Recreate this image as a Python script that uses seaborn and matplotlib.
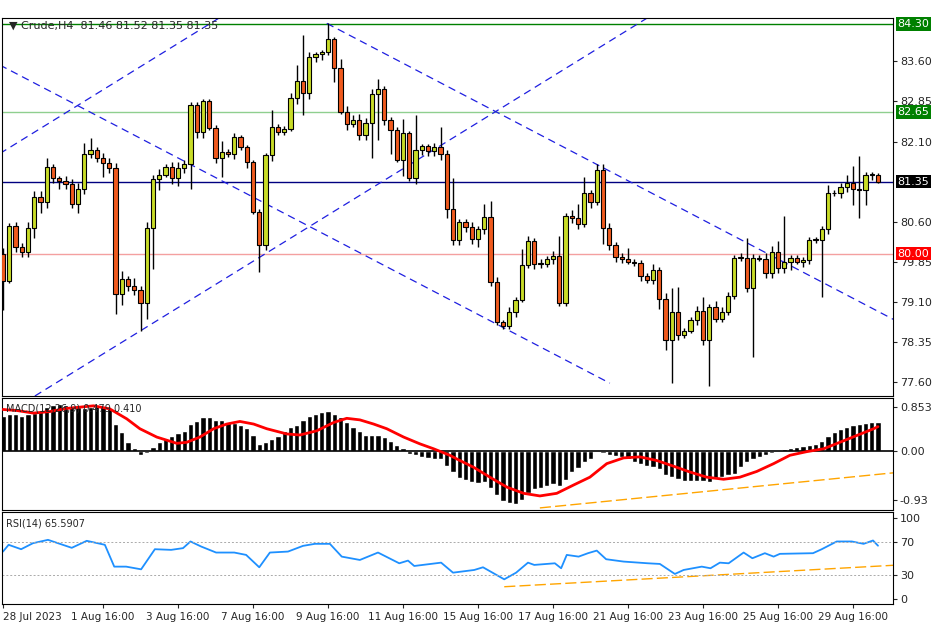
import matplotlib
matplotlib.use("Agg")
import matplotlib.pyplot as plt
import seaborn as sns
import numpy as np
import pandas as pd

# ---- price data (H4 candles) ----
first_open = 80.00
closes = [79.50, 80.52, 80.13, 80.04, 80.49, 81.07, 80.96, 81.63, 81.41, 81.37,
          81.31, 80.94, 81.22, 81.87, 81.95, 81.80, 81.69, 81.61, 79.25, 79.53,
          79.40, 79.32, 79.08, 80.49, 81.39, 81.48, 81.63, 81.41, 81.61, 81.67,
          82.79, 82.27, 82.85, 82.36, 81.80, 81.91, 81.86, 82.18, 81.99, 81.71,
          80.79, 80.17, 81.84, 82.38, 82.27, 82.34, 82.91, 83.24, 83.00, 83.68,
          83.73, 83.77, 84.01, 83.47, 82.66, 82.42, 82.51, 82.23, 82.44, 82.98,
          83.09, 82.51, 82.32, 81.76, 82.25, 81.41, 81.95, 82.01, 81.93, 81.99,
          81.86, 80.84, 80.26, 80.60, 80.51, 80.28, 80.47, 80.69, 79.47, 78.72,
          78.65, 78.91, 79.14, 79.79, 80.24, 79.81, 79.81, 79.90, 79.96, 79.08,
          80.71, 80.67, 80.56, 81.14, 80.96, 81.57, 80.49, 80.17,
          79.94, 79.91, 79.85, 79.83, 79.59, 79.51, 79.70, 79.16, 78.39, 78.91,
          78.48, 78.56, 78.76, 78.93, 78.39, 79.01, 78.78, 78.91, 79.21, 79.92,
          79.92, 79.36, 79.92, 79.91, 79.64, 80.04, 79.74, 79.85, 79.92, 79.85,
          79.89, 80.26, 80.26, 80.47, 81.13, 81.14, 81.24, 81.33, 81.22, 81.20,
          81.48, 81.48, 81.35]
upper_wick = [0.1, 0.05, 0.08, 0.08, 0.1, 0.1, 0.1, 0.17, 0.05, 0.05,
              0.08, 0.08, 0.1, 0.2, 0.22, 0.05, 0.08, 0.1, 0.08, 0.15,
              0.05, 0.15, 0.08, 0.1, 0.08, 0.1, 0.05, 0.08, 0.1, 0.08,
              0.05, 0.05, 0.05, 0.05, 0.05, 0.2, 0.05, 0.08, 0.05, 0.05,
              0.05, 0.05, 0.05, 0.3, 0.05, 0.05, 0.1, 0.29, 0.85, 0.1,
              0.05, 0.05, 0.3, 0.05, 0.17, 0.1, 0.08, 0.1, 0.1, 0.1,
              0.17, 0.05, 0.05, 0.05, 0.28, 0.05, 0.64, 0.05, 0.05, 0.08,
              0.39, 0.08, 0.57, 0.05, 0.05, 0.08, 0.05, 0.25, 0.3, 0.1,
              0.05, 0.1, 0.05, 0.3, 0.1, 0.05, 0.1, 0.05, 0.1, 0.38,
              0.05, 0.1, 0.27, 0.3, 0.05, 0.1, 0.1, 0.08, 0.05, 0.08,
              0.2, 0.05, 0.05, 0.05, 0.1, 0.05, 0.1, 0.45, 0.47, 0.05,
              0.05, 0.1, 0.26, 0.05, 0.1, 0.1, 0.08, 0.05, 0.1, 0.38,
              0.08, 0.05, 0.1, 0.1, 0.2, 0.86, 0.05, 0.05, 0.05, 0.05,
              0.05, 0.05, 0.15, 0.05, 0.08, 0.15, 0.32, 0.6, 0.05, 0.05, 0.04]
lower_wick = [0.55, 0.05, 0.1, 0.1, 0.1, 0.2, 0.2, 0.1, 0.08, 0.15,
              0.1, 0.08, 0.17, 0.1, 0.08, 0.08, 0.25, 0.1, 0.37, 0.2,
              0.1, 0.1, 0.52, 0.3, 0.77, 0.2, 0.05, 0.1, 0.15, 0.1,
              0.45, 0.1, 0.1, 0.05, 0.1, 0.36, 0.05, 0.08, 0.05, 0.1,
              0.05, 0.51, 0.1, 0.1, 0.05, 0.05, 0.05, 0.1, 0.41, 0.1,
              0.1, 0.1, 0.05, 0.25, 0.05, 0.1, 0.05, 0.1, 0.1, 0.64,
              0.86, 0.1, 0.45, 0.05, 0.3, 0.05, 0.1, 0.1, 0.1, 0.1,
              0.1, 0.18, 0.1, 0.1, 0.1, 0.1, 0.15, 0.1, 0.07, 0.05,
              0.05, 0.05, 0.1, 0.05, 0.05, 0.1, 0.08, 0.05, 0.1, 0.05,
              0.05, 0.1, 0.1, 0.05, 0.1, 0.05, 0.3, 0.1, 0.1, 0.08,
              0.05, 0.05, 0.1, 0.05, 0.08, 0.19, 0.19, 0.81, 0.1, 0.05,
              0.05, 0.1, 0.1, 0.86, 0.05, 0.05, 0.05, 0.05, 0.05, 0.08,
              1.29, 0.05, 0.1, 0.1, 0.1, 0.1, 0.15, 0.05, 0.1, 0.08,
              0.05, 1.07, 0.1, 0.05, 0.1, 0.08, 0.3, 0.53, 0.28, 0.1, 0.03]

# ---- MACD main (histogram) and signal ----
macd = [0.67, 0.71, 0.71, 0.68, 0.71, 0.74, 0.78, 0.84, 0.88, 0.90,
        0.88, 0.87, 0.84, 0.82, 0.84, 0.87, 0.87, 0.82, 0.53, 0.36,
        0.18, 0.06, -0.07, -0.03, 0.08, 0.17, 0.25, 0.30, 0.35, 0.39,
        0.52, 0.57, 0.65, 0.66, 0.60, 0.59, 0.55, 0.54, 0.50, 0.45,
        0.31, 0.14, 0.17, 0.24, 0.30, 0.38, 0.46, 0.50, 0.59, 0.67,
        0.71, 0.76, 0.78, 0.71, 0.65, 0.55, 0.46, 0.38, 0.31, 0.31,
        0.31, 0.27, 0.20, 0.11, 0.06, -0.05, -0.08, -0.11, -0.13, -0.15,
        -0.16, -0.28, -0.40, -0.52, -0.56, -0.60, -0.62, -0.60, -0.71, -0.85,
        -0.96, -0.99, -1.01, -0.94, -0.81, -0.73, -0.71, -0.67, -0.64, -0.66,
        -0.56, -0.40, -0.32, -0.21, -0.15, -0.02, -0.03, -0.07, -0.10, -0.11,
        -0.15, -0.20, -0.24, -0.29, -0.31, -0.35, -0.46, -0.50, -0.53, -0.58,
        -0.58, -0.58, -0.58, -0.59, -0.53, -0.50, -0.46, -0.43, -0.31, -0.21,
        -0.16, -0.11, -0.07, -0.03, 0.01, 0.04, 0.06, 0.08, 0.10, 0.11,
        0.14, 0.20, 0.30, 0.36, 0.43, 0.47, 0.50, 0.52, 0.54, 0.55, 0.55]
signal_bar = [0, 2.2, 4.9, 7.5, 10.2, 14.5, 17.1, 19.8, 21.9, 24.6, 27.8, 29.4, 31.5,
              33.7, 35.8, 37.9, 40.1, 42.2, 45.4, 47.5, 50.2, 52.9, 55.0, 57.1, 59.3,
              61.4, 64.1, 66.7, 68.9, 71.5, 72.6, 75.3, 77.9, 80.6, 83.3, 85.9, 88.6,
              91.3, 93.9, 96.6, 99.3, 101.9, 104.6, 107.3, 109.9, 112.6, 115.3, 117.9,
              120.6, 123.3, 125.9, 128.6, 131.3, 133.9, 136.6, 139.3, 140.0]
signal_val = [0.80, 0.78, 0.73, 0.76, 0.82, 0.87, 0.81, 0.62, 0.43, 0.27, 0.15, 0.17, 0.27,
              0.43, 0.52, 0.57, 0.52, 0.43, 0.33, 0.31, 0.39, 0.55, 0.63, 0.60, 0.52,
              0.43, 0.27, 0.14, 0.045, -0.08, -0.15, -0.31, -0.50, -0.69, -0.81, -0.86, -0.81,
              -0.65, -0.50, -0.24, -0.13, -0.11, -0.18, -0.29, -0.40, -0.50, -0.54, -0.50,
              -0.39, -0.24, -0.08, -0.01, 0.045, 0.17, 0.30, 0.43, 0.47]

# ---- RSI(14) ----
rsi_bar = [0, 0.9, 2.9, 4.8, 7.2, 11, 13.4, 16.3, 17.8, 19.7, 22.1, 24.3, 26.9, 28.8, 30.0,
           31.7, 34.1, 37, 38.9, 41, 42.7, 45.6, 48, 49.9, 52.3, 54.2, 57.1, 60, 63.4, 64.8,
           65.8, 70.1, 72, 75.4, 76.8, 80.2, 82.1, 84, 85, 88.3, 89.3, 90.2, 92.1, 93.6, 95,
           96.5, 99.3, 103.2, 105.1, 107.5, 108.9, 111.8, 113.2, 114.7, 116.1, 118.5, 119.9,
           121.9, 123.3, 124.3, 129.6, 131, 133.4, 135.8, 137.7, 139.2, 140]
rsi_val = [58.4, 66.7, 61.3, 68.7, 72.8, 63.0, 71.6, 66.7, 39.9, 39.9, 36.6, 61.3, 60.5, 62.6, 70.8,
           64.6, 57.2, 57.2, 54.3, 39.1, 57.2, 58.4, 65.4, 67.9, 67.9, 52.2, 48.1, 57.2, 44.0, 47.3,
           40.7, 44.8, 32.5, 35.8, 39.1, 24.3, 32.5, 44.8, 42.0, 44.0, 37.9, 54.3, 52.2, 56.4, 59.6,
           49.0, 46.1, 44.0, 43.2, 30.9, 35.8, 39.9, 37.9, 44.8, 44.0, 57.2, 50.2,
           56.4, 52.2, 55.6, 56.4, 61.3, 70.8, 70.8, 67.9, 72.0, 65.6]

tick_bars = [0, 16, 28, 40, 52, 64, 76, 88, 100, 112, 124, 136]
tick_labels = ["28 Jul 2023", "1 Aug 16:00", "3 Aug 16:00", "7 Aug 16:00", "9 Aug 16:00",
               "11 Aug 16:00", "15 Aug 16:00", "17 Aug 16:00", "21 Aug 16:00",
               "23 Aug 16:00", "25 Aug 16:00", "29 Aug 16:00"]

# channel lines: (bar, price) endpoints
channel = [((-0.5, 81.875), (37.9, 84.65)),
           ((5.1, 77.34), (106.4, 84.65)),
           ((-0.5, 83.53), (97.1, 77.58)),
           ((51.8, 84.31), (143, 78.74))]
levels = [(84.30, "#008000", "#008000"), (82.65, "#8fcf8f", "#008000"),
          (81.35, "#000080", "#000000"), (80.00, "#f4a0a0", "#ff0000")]

sns.set_style("white")
plt.rcParams['font.family'] = ['DejaVu Sans']

df = pd.DataFrame({"close": closes, "uw": upper_wick, "lw": lower_wick})
df["bar"] = np.arange(len(df))
df["open"] = [first_open] + closes[:-1]
df["top"] = df[["open", "close"]].max(axis=1)
df["bot"] = df[["open", "close"]].min(axis=1)
df["high"] = df["top"] + df["uw"]
df["low"] = df["bot"] - df["lw"]
up = df["close"] >= df["open"]

W, H = 936, 624
fig = plt.figure(figsize=(W / 100, H / 100), dpi=100)
L, R = 2 / W, 893 / W
def pax(top, bot):
    return fig.add_axes([L, 1 - bot / H, R - L, (bot - top) / H])
ax = pax(18, 396)
axm = pax(398, 510)
axr = pax(512, 604)
xlim = (-0.16, 142.4)

# candles
ax.vlines(df["bar"], df["low"], df["high"], color="black", lw=1, zorder=3)
ax.bar(df["bar"], (df["top"] - df["bot"]).clip(lower=0.015), bottom=df["bot"], width=0.68,
       color=np.where(up, "#c8dc28", "#f05a1e"), edgecolor="black", lw=0.8, zorder=4)
for (x0, y0), (x1, y1) in channel:
    ax.plot([x0, x1], [y0, y1], color="#1f1fe0", lw=0.9, ls=(0, (6, 4)), zorder=2)
for val, lc, bc in levels:
    ax.axhline(val, color=lc, lw=1, zorder=1)
    ax.text(1.005, val, f"{val:.2f}", transform=ax.get_yaxis_transform(), fontsize=8,
            color="white", va="center", ha="left",
            bbox=dict(boxstyle="square,pad=0.15", fc=bc, ec="none"), zorder=6)
ax.set_ylim(77.34, 84.41)
ax.set_yticks([83.60, 82.85, 82.10, 80.60, 79.85, 79.10, 78.35, 77.60])
ax.text(0.008, 0.992, "\u25bc Crude,H4  81.46 81.52 81.35 81.35", transform=ax.transAxes,
        fontsize=8, va="top", ha="left")

# MACD
axm.bar(np.arange(len(macd)), macd, width=0.82, color="black", zorder=2)
sns.lineplot(x=signal_bar, y=signal_val, ax=axm, color="#ff0000", lw=2, zorder=3)
axm.plot([85.9, 143], [-1.09, -0.41], color="#ffa500", lw=1, ls=(0, (8, 3)))
axm.axhline(0, color="black", lw=1.2)
axm.set_ylim(-1.13, 1.02)
axm.set_yticks([0.853, 0.0, -0.93])
axm.set_yticklabels(["0.853", "0.00", "-0.93"])
axm.text(0.005, 0.95, "MACD(12,26,9) 0.479 0.410", transform=axm.transAxes, fontsize=7,
         va="top", ha="left")

# RSI
sns.lineplot(x=rsi_bar, y=rsi_val, ax=axr, color="#1e90ff", lw=1.3)
axr.plot([80.2, 143.5], [15.2, 42], color="#ffa500", lw=1, ls=(0, (8, 3)))
for lv in (70, 30):
    axr.axhline(lv, color="#aaaaaa", lw=0.7, ls=(0, (2, 2)))
axr.set_ylim(-6, 107)
axr.set_yticks([100, 70, 30, 0])
axr.text(0.005, 0.93, "RSI(14) 65.5907", transform=axr.transAxes, fontsize=7,
         va="top", ha="left")

for a in (ax, axm, axr):
    a.set_xlim(*xlim)
    a.yaxis.tick_right()
    a.tick_params(axis="y", labelsize=8, length=3, pad=2, right=True)
    a.set_xticks([])
    a.set_xlabel("")
    a.set_ylabel("")
    for s in a.spines.values():
        s.set_color("black")
        s.set_linewidth(0.8)
axr.set_xticks(tick_bars)
axr.set_xticklabels(tick_labels, fontsize=7.5)
axr.tick_params(axis="x", length=3, pad=3, bottom=True)
axr.get_xticklabels()[0].set_horizontalalignment("left")

fig.savefig("out.png", dpi=100)
